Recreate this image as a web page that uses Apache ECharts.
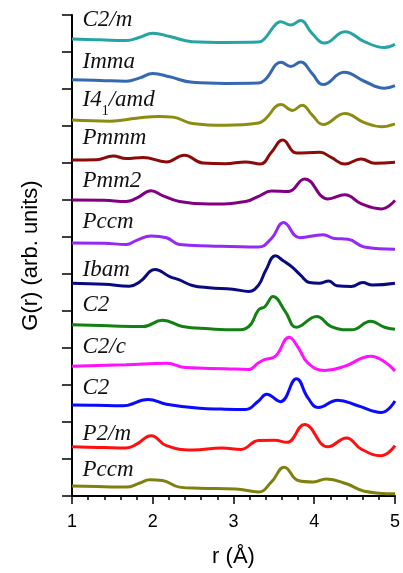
<!DOCTYPE html>
<html>
<head>
<meta charset="utf-8">
<script src="https://cdn.jsdelivr.net/npm/echarts@6/dist/echarts.min.js"></script>
<style>
html, body { margin: 0; padding: 0; background: #fff; }
#chart { width: 403px; height: 573px; }
</style>
</head>
<body>
<div id="chart"></div>
<script>
// G(r) curves, top to bottom, points are [r (Å), G] with one y tick = 1 unit
var c2m = [[1.00,12.35],[1.35,12.33],[1.67,12.31],[1.84,12.40],[2.00,12.51],[2.21,12.42],[2.49,12.28],[2.90,12.26],[3.31,12.27],[3.39,12.37],[3.50,12.69],[3.58,12.82],[3.71,12.73],[3.83,12.85],[3.97,12.51],[4.13,12.24],[4.38,12.55],[4.62,12.28],[4.87,12.12],[5.00,12.21]];
var imma = [[1.00,11.25],[1.35,11.23],[1.67,11.21],[1.84,11.30],[2.00,11.42],[2.21,11.33],[2.49,11.18],[2.90,11.15],[3.31,11.16],[3.39,11.25],[3.59,11.72],[3.71,11.61],[3.83,11.73],[3.97,11.43],[4.11,11.12],[4.37,11.45],[4.62,11.21],[4.87,11.02],[5.00,11.09]];
var i41amd = [[1.00,10.16],[1.47,10.13],[1.80,10.21],[2.08,10.26],[2.25,10.24],[2.49,10.07],[2.90,10.02],[3.31,10.08],[3.39,10.18],[3.59,10.58],[3.73,10.42],[3.85,10.56],[3.97,10.31],[4.11,10.04],[4.38,10.34],[4.62,10.09],[4.83,9.98],[5.00,10.06]];
var pmmm = [[1.00,9.08],[1.30,9.09],[1.51,9.19],[1.67,9.12],[1.88,9.15],[2.17,9.03],[2.39,9.21],[2.62,9.00],[2.90,8.98],[3.15,9.03],[3.33,8.97],[3.47,9.29],[3.61,9.62],[3.78,9.27],[4.07,9.29],[4.21,9.15],[4.38,8.97],[4.58,9.11],[4.75,8.99],[5.00,9.02]];
var pmm2 = [[1.00,8.00],[1.40,7.99],[1.67,7.96],[1.80,8.05],[1.98,8.25],[2.12,8.12],[2.33,7.96],[2.70,7.89],[3.15,7.96],[3.31,8.10],[3.47,8.24],[3.68,8.23],[3.88,8.57],[4.17,8.03],[4.38,8.14],[4.58,7.90],[4.83,7.76],[5.00,7.99]];
var pccmA = [[1.00,6.84],[1.40,6.83],[1.67,6.80],[1.80,6.91],[1.98,7.03],[2.17,6.98],[2.33,6.80],[2.70,6.76],[3.31,6.73],[3.47,6.96],[3.62,7.39],[3.82,6.98],[4.11,7.06],[4.25,6.96],[4.42,6.94],[4.62,6.73],[5.00,6.67]];
var ibam = [[1.00,5.75],[1.40,5.72],[1.71,5.67],[1.84,5.79],[2.03,6.12],[2.21,5.93],[2.33,5.84],[2.49,5.69],[2.70,5.63],[2.99,5.59],[3.19,5.53],[3.31,5.70],[3.40,6.10],[3.52,6.49],[3.62,6.35],[3.72,6.20],[3.83,5.97],[3.94,5.77],[4.06,5.75],[4.18,5.81],[4.28,5.68],[4.46,5.66],[4.60,5.77],[4.72,5.70],[5.00,5.75]];
var c2A = [[1.00,4.63],[1.45,4.60],[1.88,4.58],[2.12,4.75],[2.37,4.58],[2.70,4.52],[3.03,4.49],[3.19,4.58],[3.31,5.03],[3.39,5.12],[3.49,5.39],[3.64,4.99],[3.78,4.56],[4.03,4.85],[4.21,4.58],[4.46,4.49],[4.70,4.72],[4.87,4.56],[5.00,4.51]];
var c2c = [[1.00,3.51],[1.67,3.55],[2.17,3.59],[2.41,3.47],[2.90,3.44],[3.19,3.42],[3.31,3.60],[3.39,3.69],[3.52,3.78],[3.69,4.29],[3.80,4.02],[3.92,3.60],[4.13,3.39],[4.38,3.51],[4.70,3.78],[4.87,3.63],[5.00,3.38]];
var c2B = [[1.00,2.46],[1.30,2.45],[1.63,2.44],[1.94,2.61],[2.17,2.48],[2.58,2.37],[2.85,2.35],[3.15,2.34],[3.31,2.57],[3.41,2.75],[3.58,2.55],[3.78,3.17],[3.92,2.66],[4.05,2.39],[4.29,2.59],[4.54,2.44],[4.83,2.26],[5.00,2.57]];
var p2m = [[1.00,1.33],[1.40,1.31],[1.67,1.30],[1.80,1.40],[1.98,1.63],[2.17,1.36],[2.49,1.24],[2.86,1.30],[3.09,1.26],[3.31,1.50],[3.51,1.51],[3.66,1.45],[3.88,1.93],[4.17,1.33],[4.40,1.57],[4.58,1.27],[4.83,1.09],[5.00,1.36]];
var pccmB = [[1.00,0.27],[1.40,0.25],[1.67,0.24],[1.84,0.35],[1.96,0.44],[2.12,0.42],[2.33,0.24],[2.58,0.21],[3.03,0.19],[3.31,0.11],[3.47,0.38],[3.63,0.78],[3.80,0.42],[3.99,0.38],[4.15,0.46],[4.40,0.33],[4.62,0.13],[5.00,0.06]];

var curves = [c2m, imma, i41amd, pmmm, pmm2, pccmA, ibam, c2A, c2c, c2B, p2m, pccmB];
var names = ['C2/m', 'Imma', 'I41/amd', 'Pmmm', 'Pmm2', 'Pccm', 'Ibam', 'C2', 'C2/c', 'C2', 'P2/m', 'Pccm'];
var labelText = ['{i|C2/m}', '{i|Imma}', '{i|I4}{s|1}{i|/amd}', '{i|Pmmm}', '{i|Pmm2}', '{i|Pccm}', '{i|Ibam}', '{i|C2}', '{i|C2/c}', '{i|C2}', '{i|P2/m}', '{i|Pccm}'];
var labelY = [12.87, 11.74, 10.70, 9.67, 8.51, 7.40, 6.12, 5.17, 4.03, 2.93, 1.67, 0.70];
var labelR = 1.13;
var xTicks = [1, 2, 3, 4, 5];

var colors = ['#26a3a3', '#3568b0', '#8c8c12', '#8b0a0a', '#800080', '#9428f5', '#0a0a80', '#128012', '#ff10ff', '#0a0aff', '#ff1010', '#808010'];

var myChart = echarts.init(document.getElementById('chart'));

var txt = { fontFamily: 'Liberation Serif', fontWeight: 'normal', color: '#111', textBorderWidth: 0 };

var series = curves.map(function (pts, i) {
  return {
    name: names[i],
    type: 'line',
    data: pts,
    smooth: 0.45,
    showSymbol: false,
    lineStyle: { color: colors[i], width: 3 },
    markPoint: {
      symbol: 'circle',
      symbolSize: 0,
      silent: true,
      data: [{
        coord: [labelR, labelY[i]],
        label: {
          show: true,
          position: 'right',
          distance: 0,
          fontWeight: 'normal',
          textBorderWidth: 0,
          formatter: labelText[i],
          rich: {
            i: Object.assign({ fontStyle: 'italic', fontSize: 23 }, txt),
            s: Object.assign({ fontSize: 14, padding: [22, 0, 0, 0] }, txt)
          }
        }
      }]
    }
  };
});

myChart.setOption({
  animation: false,
  grid: { left: 72, right: 6, top: 15, bottom: 74 },
  xAxis: {
    type: 'value',
    min: xTicks[0],
    max: xTicks[xTicks.length - 1],
    interval: 1,
    name: 'r (\u00c5)',
    nameLocation: 'middle',
    nameGap: 50,
    nameTextStyle: { fontFamily: 'Liberation Sans', fontSize: 22, color: '#000' },
    axisLine: { lineStyle: { color: '#000', width: 2 } },
    axisTick: { length: 8, lineStyle: { color: '#000', width: 1.5 } },
    minorTick: { show: true, splitNumber: 5, length: 4, lineStyle: { color: '#000', width: 1.5 } },
    axisLabel: { fontFamily: 'Liberation Sans', fontSize: 18, color: '#000', margin: 17 },
    splitLine: { show: false }
  },
  yAxis: {
    type: 'value',
    min: 0,
    max: 13,
    interval: 1,
    name: 'G(r) (arb. units)',
    nameLocation: 'middle',
    nameGap: 30,
    nameTextStyle: { fontFamily: 'Liberation Sans', fontSize: 22, color: '#000' },
    axisLine: { show: true, lineStyle: { color: '#000', width: 2 } },
    axisTick: { show: true, length: 10, lineStyle: { color: '#000', width: 1.5 } },
    axisLabel: { show: false },
    splitLine: { show: false }
  },
  series: series
});
</script>
</body>
</html>
